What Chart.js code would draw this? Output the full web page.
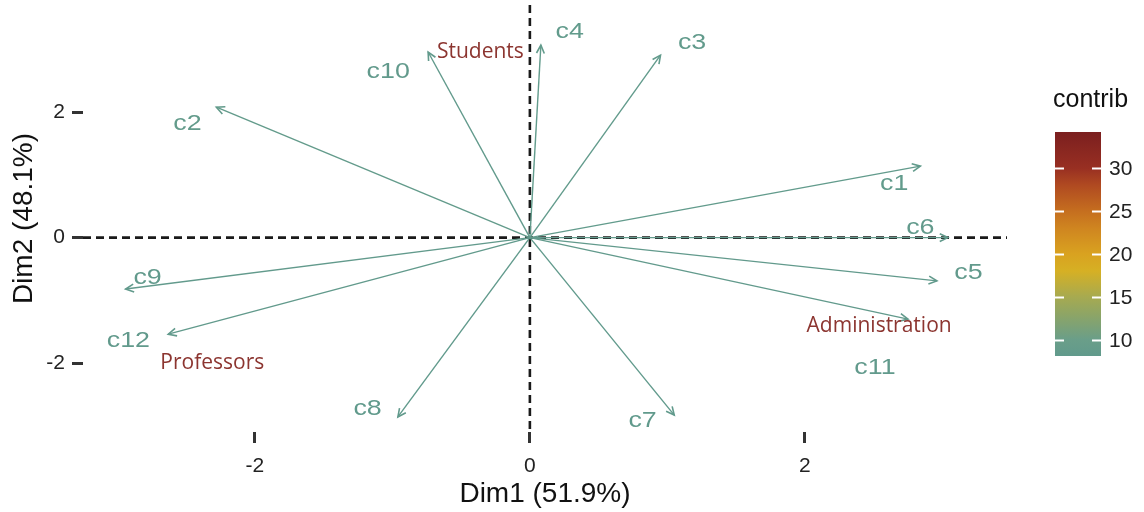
<!DOCTYPE html>
<html>
<head>
<meta charset="utf-8">
<script src="https://cdn.jsdelivr.net/npm/chart.js@4.4.1/dist/chart.umd.min.js"></script>
<style>
  html, body { margin: 0; padding: 0; background: #ffffff; }
  #wrap { width: 1144px; height: 512px; position: relative; }
</style>
</head>
<body>
<div id="wrap"><canvas id="c"></canvas></div>
<script>
// ---- data ----
const varNames = ['c1','c2','c3','c4','c5','c6','c7','c8','c9','c10','c11','c12'];
const dim1 = [2.84, -2.28, 0.95, 0.08, 2.96, 3.04, 1.05, -0.96, -2.94, -0.74, 2.75, -2.63];
const dim2 = [1.14, 2.08, 2.91, 3.07, -0.69, 0.00, -2.83, -2.86, -0.82, 2.96, -1.30, -1.54];
const contrib = [8.4, 8.5, 8.4, 8.4, 8.3, 8.3, 8.2, 8.2, 8.3, 8.3, 8.3, 8.3];
// label anchor positions (data units, as placed by the repel layout)
const labelX = [2.65, -2.49, 1.18, 0.29, 3.19, 2.84, 0.82, -1.18, -2.78, -1.03, 2.51, -2.92];
const labelY = [0.86, 1.82, 3.10, 3.28, -0.56, 0.16, -2.93, -2.74, -0.64, 2.64, -2.08, -1.65];
// group annotations
const groupNames = ['Students', 'Professors', 'Administration'];
const groupX = [-0.36, -2.31, 2.54];
const groupY = [2.96, -2.00, -1.41];
// axis ticks
const xTicks = [-2, 0, 2];
const yTicks = [-2, 0, 2];
const xTitle = 'Dim1 (51.9%)';
const yTitle = 'Dim2 (48.1%)';
// colour legend
const legendTitle = 'contrib';
const legendTicks = [10, 15, 20, 25, 30];
const legendMin = 8.1, legendMax = 34.2;
const gradStops = [
  [8.1, '#619a8c'], [10, '#6a9e89'], [13, '#8ea565'], [15, '#a7aa50'],
  [18, '#d6b024'], [20, '#d9a220'], [23, '#cf8520'], [25, '#c56e1f'],
  [28, '#b04a21'], [30, '#982f22'], [34.2, '#7b1f1f']
];

const FONT = '"Liberation Sans", Arial, sans-serif';

function hexToRgb(h){ const n=parseInt(h.slice(1),16); return [(n>>16)&255,(n>>8)&255,n&255]; }
function colorFor(v){
  if (v <= gradStops[0][0]) return gradStops[0][1];
  for (let i=1;i<gradStops.length;i++){
    if (v <= gradStops[i][0]) {
      const [v0,c0] = gradStops[i-1], [v1,c1] = gradStops[i];
      const t = (v-v0)/(v1-v0), a=hexToRgb(c0), b=hexToRgb(c1);
      const m = a.map((x,k)=>Math.round(x+(b[k]-x)*t));
      return 'rgb('+m.join(',')+')';
    }
  }
  return gradStops[gradStops.length-1][1];
}

function stretchedText(ctx, text, cx, cy, sx){
  ctx.save();
  ctx.translate(cx, cy);
  ctx.scale(sx, 1);
  ctx.fillText(text, 0, 0);
  ctx.restore();
}

const datasets = varNames.map((n,i)=>({
  label: n,
  data: [{x:0,y:0},{x:dim1[i],y:dim2[i]}],
  showLine: true,
  pointRadius: 0,
  borderColor: colorFor(contrib[i]),
  borderWidth: 1.4,
  fill: false
}));

const biplot = {
  id: 'biplot',
  beforeDatasetsDraw(chart){
    const {ctx, chartArea:a, scales:{x,y}} = chart;
    ctx.save();
    ctx.strokeStyle = '#1a1a1a';
    ctx.lineWidth = 2.6;
    ctx.setLineDash([8,5]);
    const y0 = y.getPixelForValue(0), x0 = x.getPixelForValue(0);
    ctx.beginPath(); ctx.moveTo(a.left, y0); ctx.lineTo(a.right, y0); ctx.stroke();
    ctx.beginPath(); ctx.moveTo(x0, a.top); ctx.lineTo(x0, a.bottom); ctx.stroke();
    ctx.restore();
  },
  afterDatasetsDraw(chart){
    const {ctx, scales:{x,y}} = chart;
    ctx.save();
    const x0 = x.getPixelForValue(0), y0 = y.getPixelForValue(0);
    varNames.forEach((n,i)=>{
      const px = x.getPixelForValue(dim1[i]), py = y.getPixelForValue(dim2[i]);
      const ang = Math.atan2(py-y0, px-x0);
      const L = 9, sp = Math.PI/7;
      ctx.strokeStyle = colorFor(contrib[i]);
      ctx.lineWidth = 1.6;
      ctx.beginPath();
      ctx.moveTo(px - L*Math.cos(ang-sp), py - L*Math.sin(ang-sp));
      ctx.lineTo(px, py);
      ctx.lineTo(px - L*Math.cos(ang+sp), py - L*Math.sin(ang+sp));
      ctx.stroke();
    });
    ctx.textAlign = 'center';
    ctx.textBaseline = 'middle';
    ctx.font = '22px ' + FONT;
    varNames.forEach((n,i)=>{
      ctx.fillStyle = colorFor(contrib[i]);
      stretchedText(ctx, n, x.getPixelForValue(labelX[i]), y.getPixelForValue(labelY[i]), 1.22);
    });
    ctx.font = '21px "Open Sans", sans-serif';
    ctx.fillStyle = '#8c3530';
    groupNames.forEach((g,i)=>{
      ctx.fillText(g, x.getPixelForValue(groupX[i]), y.getPixelForValue(groupY[i]));
    });
    ctx.restore();
  },
  afterDraw(chart){
    const {ctx} = chart;
    const bx = 1055, bw = 46, top = 132, bottom = 356;
    const vy = v => bottom - (v-legendMin)/(legendMax-legendMin)*(bottom-top);
    ctx.save();
    const g = ctx.createLinearGradient(0, bottom, 0, top);
    gradStops.forEach(([v,c])=>g.addColorStop((v-legendMin)/(legendMax-legendMin), c));
    ctx.fillStyle = g;
    ctx.fillRect(bx, top, bw, bottom-top);
    ctx.strokeStyle = '#ffffff';
    ctx.lineWidth = 2;
    ctx.font = '21px ' + FONT;
    ctx.fillStyle = '#222222';
    ctx.textAlign = 'left';
    ctx.textBaseline = 'middle';
    legendTicks.forEach(v=>{
      const yy = Math.round(vy(v))+0.5;
      ctx.beginPath(); ctx.moveTo(bx, yy); ctx.lineTo(bx+9, yy); ctx.stroke();
      ctx.beginPath(); ctx.moveTo(bx+bw-9, yy); ctx.lineTo(bx+bw, yy); ctx.stroke();
      ctx.fillText(String(v), bx+bw+8, yy+1);
    });
    ctx.font = '25px ' + FONT;
    ctx.fillStyle = '#111111';
    ctx.fillText(legendTitle, 1053, 100);
    ctx.restore();
  }
};

new Chart(document.getElementById('c'), {
  type: 'scatter',
  data: { datasets },
  options: {
    responsive: true,
    maintainAspectRatio: false,
    animation: false,
    events: [],
    layout: { padding: { top: 5, right: 137, left: 0, bottom: 0 } },
    plugins: { legend: { display: false }, tooltip: { enabled: false } },
    scales: {
      x: {
        type: 'linear', min: -3.25, max: 3.47,
        afterBuildTicks: s => { s.ticks = xTicks.map(v=>({value:v})); },
        afterFit: s => { s.height = 80; s.paddingLeft = 0; s.paddingRight = 0; },
        grid: { display: true, drawOnChartArea: false, drawTicks: true, tickLength: 11, tickWidth: 3, tickColor: '#333333' },
        border: { display: false },
        ticks: { font: { size: 21, family: FONT }, color: '#222222', padding: 11, callback: v => String(v) },
        title: { display: true, text: xTitle, font: { size: 28, family: FONT }, color: '#111111', padding: { top: 0, bottom: 1 } }
      },
      y: {
        type: 'linear', min: -3.1, max: 3.71,
        afterBuildTicks: s => { s.ticks = yTicks.map(v=>({value:v})); },
        afterFit: s => { s.width = 83; s.paddingTop = 0; s.paddingBottom = 0; },
        grid: { display: true, drawOnChartArea: false, drawTicks: true, tickLength: 11, tickWidth: 3, tickColor: '#333333' },
        border: { display: false },
        ticks: { font: { size: 21, family: FONT }, color: '#222222', padding: 7, callback: v => String(v) },
        title: { display: true, text: yTitle, font: { size: 28, family: FONT }, color: '#111111', padding: { top: 7, bottom: 0 } }
      }
    }
  },
  plugins: [biplot]
});
</script>
</body>
</html>
